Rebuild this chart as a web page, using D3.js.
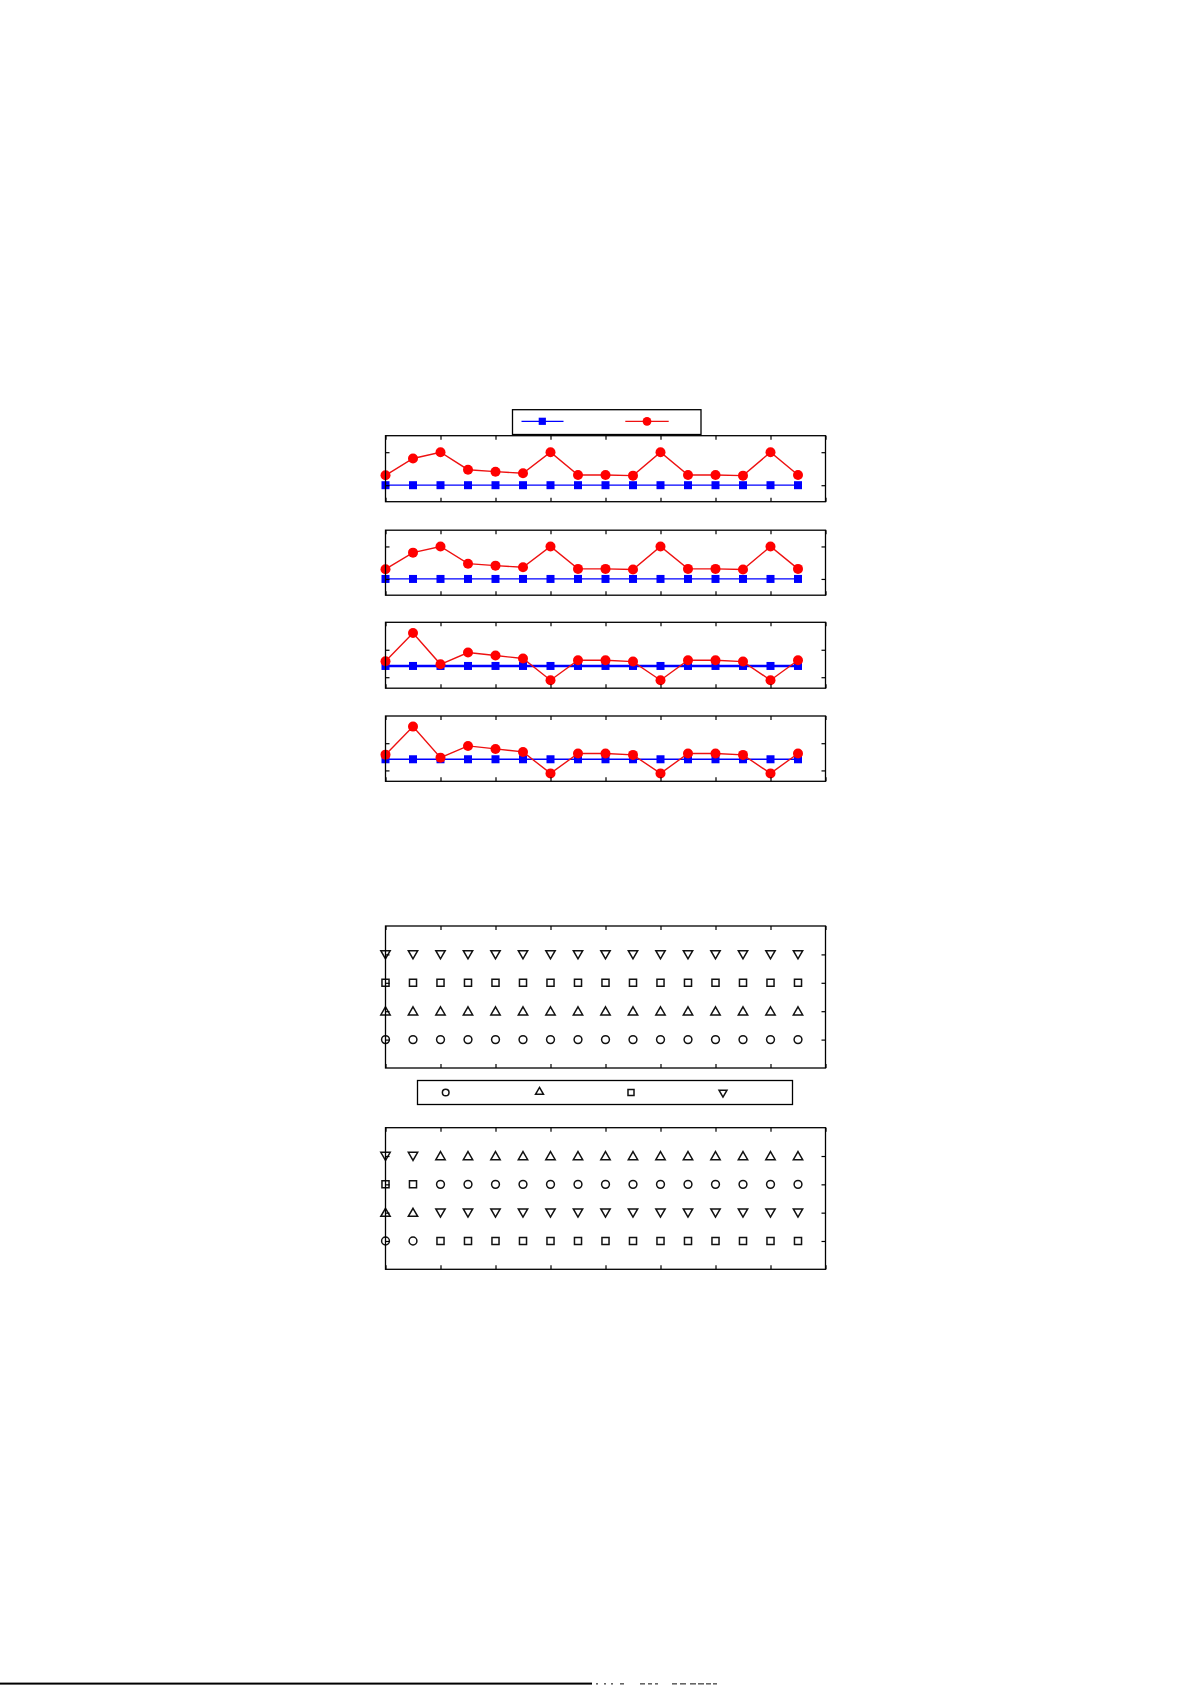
<!DOCTYPE html>
<html><head><meta charset="utf-8">
<script src="https://cdn.jsdelivr.net/npm/d3@7"></script>
<style>html,body{margin:0;padding:0;background:#fff;}svg{display:block;}</style>
</head><body>
<script>
// ---- data ----
const xCats = [1,2,3,4,5,6,7,8,9,10,11,12,13,14,15,16];
const xTicks = [1,3,5,7,9,11,13,15,17];
const blueA = [0,0,0,0,0,0,0,0,0,0,0,0,0,0,0,0];
const redA  = [0.30,0.81,1.0,0.47,0.41,0.36,1.0,0.31,0.31,0.29,1.0,0.31,0.31,0.29,1.0,0.31];
const yTicksA = [0,1];
const blueB = [0.41,0.41,0.41,0.41,0.41,0.41,0.41,0.41,0.41,0.41,0.41,0.41,0.41,0.41,0.41,0.41];
const redB  = [0.58,1.61,0.47,0.90,0.79,0.68,-0.11,0.62,0.62,0.57,-0.11,0.62,0.62,0.57,-0.11,0.62];
const yTicksB = [0,1];
const rowTicks = [1,2,3,4];
// panel 5: every column same
const p5circle = [1,1,1,1,1,1,1,1,1,1,1,1,1,1,1,1];
const p5triUp  = [2,2,2,2,2,2,2,2,2,2,2,2,2,2,2,2];
const p5square = [3,3,3,3,3,3,3,3,3,3,3,3,3,3,3,3];
const p5triDn  = [4,4,4,4,4,4,4,4,4,4,4,4,4,4,4,4];
// panel 6: swapped after 2nd column
const p6circle = [1,1,3,3,3,3,3,3,3,3,3,3,3,3,3,3];
const p6triUp  = [2,2,4,4,4,4,4,4,4,4,4,4,4,4,4,4];
const p6square = [3,3,1,1,1,1,1,1,1,1,1,1,1,1,1,1];
const p6triDn  = [4,4,2,2,2,2,2,2,2,2,2,2,2,2,2,2];

const W = 1191, H = 1685;
const svg = d3.select("body").append("svg").attr("width", W).attr("height", H);

const L = 385.5, R = 825.5;
const TL = 4;

function frame(g, x, y, xt, yt) {
  const [x0, x1] = x.range(); const [y0, y1] = y.range();
  g.append("rect").attr("x", x0).attr("y", y1).attr("width", x1 - x0).attr("height", y0 - y1)
    .attr("fill", "none").attr("stroke", "#000").attr("stroke-width", 1.3);
  g.append("g").attr("transform", `translate(0,${y0})`)
    .call(d3.axisTop(x).tickValues(xt).tickSize(TL).tickFormat(""))
    .call(a => a.select(".domain").remove())
    .selectAll("line").attr("stroke-width", 1.2);
  g.append("g").attr("transform", `translate(0,${y1})`)
    .call(d3.axisBottom(x).tickValues(xt).tickSize(TL).tickFormat(""))
    .call(a => a.select(".domain").remove())
    .selectAll("line").attr("stroke-width", 1.2);
  g.append("g").attr("transform", `translate(${x0},0)`)
    .call(d3.axisRight(y).tickValues(yt).tickSize(TL).tickFormat(""))
    .call(a => a.select(".domain").remove())
    .selectAll("line").attr("stroke-width", 1.2);
  g.append("g").attr("transform", `translate(${x1},0)`)
    .call(d3.axisLeft(y).tickValues(yt).tickSize(TL).tickFormat(""))
    .call(a => a.select(".domain").remove())
    .selectAll("line").attr("stroke-width", 1.2);
}

function linePanel(top, bottom, domain, ticks, blue, red, blueW) {
  const x = d3.scaleLinear().domain([1, 17]).range([L, R]);
  const y = d3.scaleLinear().domain(domain).range([bottom, top]);
  const g = svg.append("g");
  const line = d3.line().x((d, i) => x(xCats[i])).y(d => y(d));
  g.append("path").datum(blue).attr("d", line).attr("fill", "none")
    .attr("stroke", "#0000ff").attr("stroke-width", blueW);
  g.selectAll(".bs").data(blue).join("rect")
    .attr("x", (d, i) => x(xCats[i]) - 4).attr("y", d => y(d) - 4)
    .attr("width", 8).attr("height", 8).attr("fill", "#0000ff");
  g.append("path").datum(red).attr("d", line).attr("fill", "none")
    .attr("stroke", "#ee1111").attr("stroke-width", 1.4);
  g.selectAll(".rc").data(red).join("circle")
    .attr("cx", (d, i) => x(xCats[i])).attr("cy", d => y(d)).attr("r", 5)
    .attr("fill", "#ff0000");
  frame(g, x, y, xTicks, ticks);
}

linePanel(435.7, 501.7, [-0.5, 1.5], yTicksA, blueA, redA, 1.3);
linePanel(530.2, 595.2, [-0.5, 1.5], yTicksA, blueA, redA, 1.3);
linePanel(622.3, 688.2, [-0.4, 2.0], yTicksB, blueB, redB, 2.6);
linePanel(716.0, 781.3, [-0.4, 2.0], yTicksB, blueB, redB, 1.3);

// legend 1
{
  const g = svg.append("g");
  g.append("rect").attr("x", 512.5).attr("y", 409.7).attr("width", 188.5).attr("height", 24.8)
    .attr("fill", "#fff").attr("stroke", "#000").attr("stroke-width", 1.3);
  g.append("line").attr("x1", 521.5).attr("x2", 563.5).attr("y1", 421.3).attr("y2", 421.3)
    .attr("stroke", "#0000ff").attr("stroke-width", 1.3);
  g.append("rect").attr("x", 542.3 - 3.6).attr("y", 421.3 - 3.6).attr("width", 7.2).attr("height", 7.2).attr("fill", "#0000ff");
  g.append("line").attr("x1", 625.3).attr("x2", 668.7).attr("y1", 421.3).attr("y2", 421.3)
    .attr("stroke", "#ee1111").attr("stroke-width", 1.3);
  g.append("circle").attr("cx", 647).attr("cy", 421.3).attr("r", 4.4).attr("fill", "#ff0000");
}

// marker panels
const shapes = {
  circle: d3.symbol().type(d3.symbolCircle).size(48)(),
  square: d3.symbol().type(d3.symbolSquare).size(50)(),
  triUp: d3.symbol().type(d3.symbolTriangle).size(38)(),
};
function mark(g, kind, cx, cy, scale) {
  const s = scale || 1;
  let p, rot = 0;
  if (kind === "triDn") { p = shapes.triUp; rot = 180; } else p = shapes[kind];
  g.append("path").attr("d", p)
    .attr("transform", `translate(${cx},${cy}) rotate(${rot}) scale(${s})`)
    .attr("fill", "none").attr("stroke", "#111").attr("stroke-width", 1.5 / s);
}
function markerPanel(top, bottom, series) {
  const x = d3.scaleLinear().domain([1, 17]).range([L, R]);
  const y = d3.scaleLinear().domain([0, 5]).range([bottom, top]);
  const g = svg.append("g");
  series.forEach(([kind, vals]) => {
    vals.forEach((v, i) => {
      const dy = kind === "triUp" ? 1 : (kind === "triDn" ? -1 : 0);
      mark(g, kind, x(xCats[i]), y(v) + dy);
    });
  });
  frame(g, x, y, xTicks, rowTicks);
}
markerPanel(926, 1068, [["circle", p5circle], ["triUp", p5triUp], ["square", p5square], ["triDn", p5triDn]]);
markerPanel(1127.7, 1269.3, [["circle", p6circle], ["triUp", p6triUp], ["square", p6square], ["triDn", p6triDn]]);

// legend 2
{
  const g = svg.append("g");
  g.append("rect").attr("x", 417.5).attr("y", 1080.5).attr("width", 375).attr("height", 24)
    .attr("fill", "#fff").attr("stroke", "#000").attr("stroke-width", 1.3);
  const items = [["circle", 445.7], ["triUp", 539.5], ["square", 631], ["triDn", 723]];
  items.forEach(([k, cx]) => mark(g, k, cx, 1092 + (k === "triUp" ? 0 : 0.5), 0.85));
}

// bottom page edge line
svg.append("rect").attr("x", 0).attr("y", 1682.6).attr("width", 592).attr("height", 2).attr("fill", "#000");
const specks = [[596,2],[604,2],[611,2],[620,4],[640,5],[648,4],[655,3],[672,5],[680,6],[690,6],[698,6],[706,5],[713,4]];
specks.forEach(([sx, sw]) => svg.append("rect").attr("x", sx).attr("y", 1683).attr("width", sw).attr("height", 1.6).attr("fill", "#666"));
</script>
</body></html>
